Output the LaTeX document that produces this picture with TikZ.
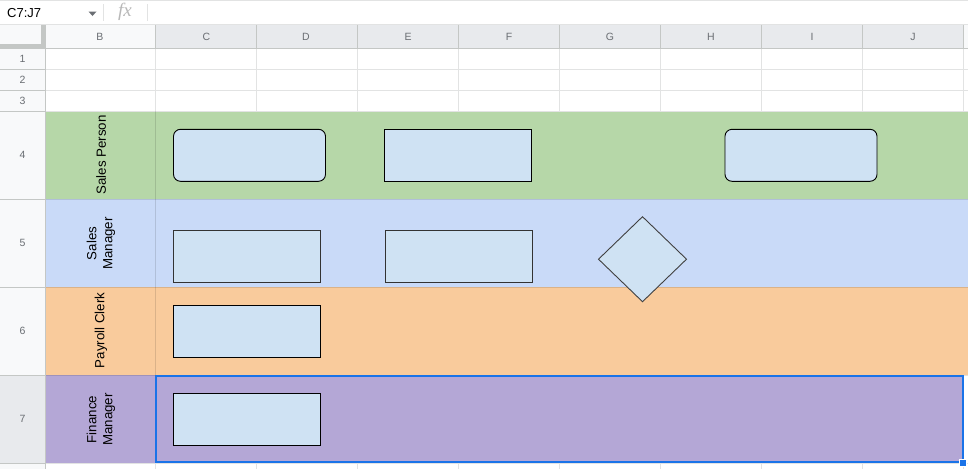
\documentclass[tikz,border=0pt]{standalone}
\usepackage{fontspec}
\setmainfont{Liberation Sans}
\newfontfamily\fxfont{Liberation Serif}
\usetikzlibrary{shapes.geometric}

\definecolor{lanegreen}{HTML}{B6D7A8}
\definecolor{laneblue}{HTML}{C9DAF8}
\definecolor{laneorange}{HTML}{F9CB9C}
\definecolor{lanepurple}{HTML}{B4A7D6}
\definecolor{boxfill}{HTML}{CFE2F3}
\definecolor{gridgray}{HTML}{E2E3E3}
\definecolor{headgray}{HTML}{F8F9FA}
\definecolor{headsel}{HTML}{E8EAED}
\definecolor{headline}{HTML}{C4C7C5}
\definecolor{headtext}{HTML}{6A6E73}
\definecolor{selblue}{HTML}{1A73E8}

\tikzset{
  headlabel/.style={text=headtext, inner sep=0pt, font=\fontsize{10.5}{12}\selectfont},
  lanelabel/.style={rotate=90, align=center, inner sep=0pt, font=\fontsize{13.3}{16}\selectfont},
  lanegrid/.style={black, opacity=.12}
}

\begin{document}
\begin{tikzpicture}[x=1pt,y=-1pt]
\useasboundingbox (0,0) rectangle (968,469);
\fill[white] (0,0) rectangle (968,469);

% swim lanes
\fill[lanegreen]  (45,111) rectangle (968,199);
\fill[laneblue]   (45,199) rectangle (968,287);
\fill[laneorange] (45,287) rectangle (968,375);
\fill[lanepurple] (45,375) rectangle (963.5,463);

% grid
\foreach \y in {69.5,90.5,111,463.5}
  \draw[gridgray] (45,\y) -- (968,\y);
\foreach \x in {155.5,256.5,357.5,458.5,559.5,660.5,761.5,862.5,963.5} {
  \draw[gridgray] (\x,48) -- (\x,111);
  \draw[gridgray] (\x,463) -- (\x,469);
}
\draw[lanegrid] (155.5,111) -- (155.5,463);
\foreach \y in {199.5,287.5,375.5}
  \draw[lanegrid] (45,\y) -- (968,\y);

% headers
\fill[headgray] (0,24) rectangle (968,48);
\fill[headsel] (155.5,24) rectangle (963.5,48);
\fill[headgray] (0,48) rectangle (45,469);
\fill[headsel] (0,375.5) rectangle (45,463.5);
\foreach \x in {155.5,256.5,357.5,458.5,559.5,660.5,761.5,862.5,963.5}
  \draw[headline] (\x,24) -- (\x,48);
\foreach \y in {69.5,90.5,111,199.5,287.5,375.5,463.5}
  \draw[headline] (0,\y) -- (45,\y);
\draw[headline] (0,48.5) -- (968,48.5);
\draw[headline] (45.5,24) -- (45.5,469);
\fill[headline] (41,24) rectangle (45.5,48.5);
\fill[headline] (0,44) rectangle (45.5,48.5);

\foreach \c/\x in {B/100,C/206.5,D/306,E/408,F/509,G/610,H/711,I/812,J/913}
  \node[headlabel] (col\c) at (\x,36.5) {\c};
\foreach \r/\y in {1/59,2/80,3/101,4/155,5/243,6/331,7/419}
  \node[headlabel] (row\r) at (22.5,\y) {\r};

% formula bar
\draw[gridgray] (0,0.5) -- (968,0.5);
\draw[gridgray] (0,24) -- (968,24);
\node[anchor=west, inner sep=0pt, font=\fontsize{13}{15}\selectfont] (range) at (7,13) {C7:J7};
\fill[headtext] (88.5,11.5) -- (96.5,11.5) -- (92.5,16) -- cycle;
\draw[gridgray] (103.5,4) -- (103.5,21);
\node[text=black!28, inner sep=0pt, font=\fxfont\itshape\fontsize{19}{19}\selectfont] (fx) at (125,11.5) {fx};
\draw[gridgray] (147.5,4) -- (147.5,21);

% lane titles
\begin{scope}[every node/.style={lanelabel}]
  \node (lane1) at (101,155) {Sales Person};
  \node (lane2) at (101,243.5) {Sales\\Manager};
  \node (lane3) at (101,330.5) {Payroll Clerk};
  \node (lane4) at (101,419.5) {Finance\\Manager};
\end{scope}

% flow shapes
\begin{scope}[every node/.style={draw=black, fill=boxfill, inner sep=0pt, outer sep=0pt,
    line width=.9pt, minimum height=52pt}]
  \node[rounded corners=7pt, minimum width=152pt] (sp1) at (249.5,155.3) {};
  \node[minimum width=147pt] (sp2) at (458,155.3) {};
  \node[rounded corners=7pt, minimum width=152pt] (sp3) at (801,155.3) {};
  \node[draw=black!80, minimum width=147pt] (sm1) at (246.8,256.5) {};
  \node[draw=black!80, minimum width=147pt] (sm2) at (459.2,256.5) {};
  \node[draw=black!75, diamond, aspect=1.03, minimum width=88pt, minimum height=85pt] (smdec) at (642.5,259.2) {};
  \node[minimum width=147pt] (pc1) at (247,331.3) {};
  \node[minimum width=147pt] (fm1) at (247,419.3) {};
\end{scope}

% selection
\draw[selblue, line width=2pt] (156,376) rectangle (962.5,462);
\filldraw[fill=selblue, draw=white, line width=1pt] (959.5,459.5) rectangle (966.5,466.5);

\end{tikzpicture}
\end{document}
